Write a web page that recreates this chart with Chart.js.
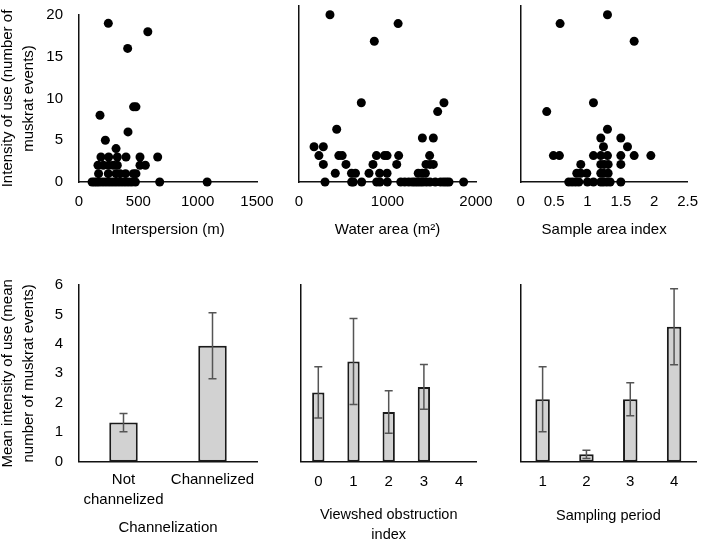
<!DOCTYPE html>
<html>
<head>
<meta charset="utf-8">
<script src="https://cdn.jsdelivr.net/npm/chart.js@4.4.0/dist/chart.umd.min.js"></script>
<style>
  html, body { margin: 0; padding: 0; background: #fff; }
  body { position: relative; width: 709px; height: 540px; overflow: hidden; }
  canvas { position: absolute; }
</style>
</head>
<body>
<canvas id="c1"></canvas>
<canvas id="c2"></canvas>
<canvas id="c3"></canvas>
<canvas id="c4"></canvas>
<canvas id="c5"></canvas>
<canvas id="c6"></canvas>
<script>
// Dados - painéis de dispersão (intensidade de uso)
const interspersionX = [247, 580, 410, 460, 480, 177, 413, 222, 312,
  185, 250, 323, 396, 514, 663,
  160, 205, 250, 289, 323, 514, 559,
  165, 247, 312, 346, 392, 458, 480,
  110, 130, 150, 170, 195, 220, 245, 270, 295, 320, 345, 370, 395, 420, 445, 475, 680, 1080];
const interspersionY = [19, 18, 16, 9, 9, 8, 6, 5, 4,
  3, 3, 3, 3, 3, 3,
  2, 2, 2, 2, 2, 2, 2,
  1, 1, 1, 1, 1, 1, 1,
  0, 0, 0, 0, 0, 0, 0, 0, 0, 0, 0, 0, 0, 0, 0, 0, 0, 0];

const waterAreaX = [350, 1120, 851, 704, 1638, 1567, 426, 1394, 1518, 170, 275,
  225, 450, 488, 875, 965, 995, 1126, 1476,
  275, 531, 836, 1104, 1435, 1480, 1518,
  410, 593, 638, 791, 911, 995, 1347, 1392, 1428,
  294, 595, 614, 708, 878, 915, 998, 1150, 1195, 1240, 1280, 1310, 1340, 1370, 1400, 1440, 1480, 1540, 1600, 1635, 1665, 1695, 1860];
const waterAreaY = [19, 18, 16, 9, 9, 8, 6, 5, 5, 4, 4,
  3, 3, 3, 3, 3, 3, 3, 3,
  2, 2, 2, 2, 2, 2, 2,
  1, 1, 1, 1, 1, 1, 1, 1, 1,
  0, 0, 0, 0, 0, 0, 0, 0, 0, 0, 0, 0, 0, 0, 0, 0, 0, 0, 0, 0, 0, 0, 0];

const sampleAreaX = [1.30, 0.59, 1.70, 1.09, 0.39, 1.30, 1.20, 1.50, 1.24, 1.60,
  0.49, 0.58, 1.09, 1.20, 1.30, 1.50, 1.70, 1.95,
  0.90, 1.20, 1.25, 1.31, 1.50,
  0.84, 0.90, 0.99, 1.20, 1.24, 1.31,
  0.72, 0.77, 0.82, 0.87, 1.00, 1.09, 1.20, 1.24, 1.29, 1.34, 1.50];
const sampleAreaY = [19, 18, 16, 9, 8, 6, 5, 5, 4, 4,
  3, 3, 3, 3, 3, 3, 3, 3,
  2, 2, 2, 2, 2,
  1, 1, 1, 1, 1, 1,
  0, 0, 0, 0, 0, 0, 0, 0, 0, 0, 0];

// Dados - painéis de barras (média +- erro)
const channelCats = [['Not', 'channelized'], 'Channelized'];
const channelMeans = [1.33, 3.94];
const channelErrors = [0.31, 1.12];

const viewshedCats = ['0', '1', '2', '3', '4'];
const viewshedMeans = [2.35, 3.40, 1.69, 2.54, null];
const viewshedErrors = [0.87, 1.46, 0.72, 0.76, null];

const periodCats = ['1', '2', '3', '4'];
const periodMeans = [2.12, 0.25, 2.12, 4.58];
const periodErrors = [1.10, 0.14, 0.56, 1.29];

Chart.defaults.font.family = '"Liberation Sans", Arial, sans-serif';
Chart.defaults.font.size = 15;
Chart.defaults.color = '#000';

// Plugin das barras de erro
const errorBars = {
    id: 'errorBars',
    afterDatasetsDraw(chart, args, opts) {
        if (!opts.errors) return;
        const ctx = chart.ctx;
        const yScale = chart.scales.y;
        const meta = chart.getDatasetMeta(0);
        const vals = chart.data.datasets[0].data;
        ctx.save();
        ctx.strokeStyle = '#555';
        ctx.lineWidth = 1.5;
        meta.data.forEach((bar, i) => {
            if (vals[i] == null || opts.errors[i] == null) return;
            const hi = yScale.getPixelForValue(vals[i] + opts.errors[i]);
            const lo = yScale.getPixelForValue(vals[i] - opts.errors[i]);
            ctx.beginPath();
            ctx.moveTo(bar.x, hi); ctx.lineTo(bar.x, lo);
            ctx.moveTo(bar.x - 4, hi); ctx.lineTo(bar.x + 4, hi);
            ctx.moveTo(bar.x - 4, lo); ctx.lineTo(bar.x + 4, lo);
            ctx.stroke();
        });
        ctx.restore();
    }
};

function criarPainel(id, box, area, cfg) {
    const canvas = document.getElementById(id);
    canvas.width = box.w;
    canvas.height = box.h;
    canvas.style.left = box.l + 'px';
    canvas.style.top = box.t + 'px';

    const yw = cfg.yTitle ? 81 : 0;
    const xh = box.t + box.h - area.b;
    const tickSize = cfg.tickSize || 15;
    const tickLh = cfg.tickLineHeight || 1.2;
    const titleSize = cfg.titleSize || 15;
    const titleLh = cfg.titleLineHeight || 1.2;
    const titleLines = Array.isArray(cfg.xTitle) ? cfg.xTitle.length : 1;
    const tLh = titleSize * titleLh;
    const titlePad = (box.t + box.h) - tLh / 2 - tLh * (titleLines - 1) - cfg.xTitleY;
    const tickPad = cfg.xTickY - area.b - tickSize * tickLh / 2;

    const isBar = cfg.type === 'bar';
    const dataset = isBar ? {
        data: cfg.values,
        backgroundColor: '#d2d2d2',
        borderColor: '#1a1a1a',
        borderWidth: 2,
        borderSkipped: false,
        categoryPercentage: 1,
        barPercentage: cfg.barPct
    } : {
        data: cfg.xs.map((x, i) => ({ x: x, y: cfg.ys[i] })),
        pointRadius: 4.5,
        backgroundColor: '#000',
        borderWidth: 0,
        clip: false
    };

    const xTicks = {
        padding: tickPad,
        maxRotation: 0,
        autoSkip: false,
        font: { size: tickSize, lineHeight: tickLh }
    };
    let xScale;
    if (isBar) {
        xScale = { type: 'category', labels: cfg.labels };
    } else {
        xScale = { type: 'linear', min: cfg.xMin, max: cfg.xMax };
        xTicks.stepSize = cfg.xStep;
        xTicks.callback = function (v) { return String(Math.round(v * 10) / 10); };
    }
    Object.assign(xScale, {
        grid: { display: false, drawTicks: false },
        border: { display: true, color: '#111', width: 1.5 },
        ticks: xTicks,
        title: {
            display: true,
            text: cfg.xTitle,
            font: { size: titleSize, lineHeight: titleLh },
            padding: { top: 0, bottom: titlePad }
        },
        afterFit(scale) { scale.height = xh; }
    });

    const yScale = {
        min: 0,
        max: cfg.yMax,
        grid: { display: false, drawTicks: false },
        border: { display: true, color: '#111', width: 1.5 },
        ticks: { display: !!cfg.yTitle, stepSize: cfg.yStep, padding: 16, font: { size: 15 } },
        title: {
            display: !!cfg.yTitle,
            text: cfg.yTitle,
            font: { size: 15, lineHeight: 1.38 },
            padding: { top: 0, bottom: 0 }
        },
        afterFit(scale) { scale.width = yw; }
    };

    return new Chart(canvas.getContext('2d'), {
        type: isBar ? 'bar' : 'scatter',
        data: isBar ? { labels: cfg.labels, datasets: [dataset] } : { datasets: [dataset] },
        options: {
            responsive: false,
            animation: false,
            events: [],
            layout: {
                padding: {
                    left: area.l - box.l - yw,
                    top: area.t - box.t,
                    right: box.l + box.w - area.r,
                    bottom: 0
                }
            },
            plugins: {
                legend: { display: false },
                tooltip: { enabled: false },
                errorBars: { errors: cfg.errors }
            },
            scales: { x: xScale, y: yScale }
        },
        plugins: [errorBars]
    });
}

// Linha de cima - dispersão
criarPainel('c1', { l: -10, t: -10, w: 300, h: 260 }, { l: 79, t: 6, r: 257, b: 182 }, {
    type: 'scatter', xs: interspersionX, ys: interspersionY,
    xMin: 0, xMax: 1500, xStep: 500, yMax: 20, yStep: 5,
    xTitle: 'Interspersion (m)', xTitleY: 230, xTickY: 202,
    yTitle: ['Intensity of use (number of', 'muskrat events)']
});
criarPainel('c2', { l: 270, t: -10, w: 240, h: 260 }, { l: 299, t: 6, r: 476, b: 182 }, {
    type: 'scatter', xs: waterAreaX, ys: waterAreaY,
    xMin: 0, xMax: 2000, xStep: 1000, yMax: 20, yStep: 5,
    xTitle: 'Water area (m\u00B2)', xTitleY: 230, xTickY: 202
});
criarPainel('c3', { l: 500, t: -10, w: 209, h: 260 }, { l: 520.7, t: 6, r: 696.7, b: 182 }, {
    type: 'scatter', xs: sampleAreaX, ys: sampleAreaY,
    xMin: 0, xMax: 2.5, xStep: 0.5, yMax: 20, yStep: 5,
    xTitle: 'Sample area index', xTitleY: 230, xTickY: 202
});

// Linha de baixo - barras
criarPainel('c4', { l: -10, t: 260, w: 300, h: 290 }, { l: 79, t: 285, r: 257, b: 461.7 }, {
    type: 'bar', labels: channelCats, values: channelMeans, errors: channelErrors, barPct: 0.32,
    yMax: 6, yStep: 1, tickLineHeight: 1.333,
    xTitle: 'Channelization', xTitleY: 527.7, xTickY: 480,
    yTitle: ['Mean intensity of use (mean', 'number of muskrat events)']
});
criarPainel('c5', { l: 270, t: 260, w: 240, h: 290 }, { l: 300.7, t: 285, r: 476.7, b: 461.7 }, {
    type: 'bar', labels: viewshedCats, values: viewshedMeans, errors: viewshedErrors, barPct: 0.35,
    yMax: 6, yStep: 1, titleSize: 14.5, titleLineHeight: 1.38,
    xTitle: ['Viewshed obstruction', 'index'], xTitleY: 515, xTickY: 482
});
criarPainel('c6', { l: 500, t: 260, w: 209, h: 290 }, { l: 520.7, t: 285, r: 696, b: 461.7 }, {
    type: 'bar', labels: periodCats, values: periodMeans, errors: periodErrors, barPct: 0.33,
    yMax: 6, yStep: 1, titleSize: 14.5,
    xTitle: 'Sampling period', xTitleY: 515.7, xTickY: 482
});
</script>
</body>
</html>
